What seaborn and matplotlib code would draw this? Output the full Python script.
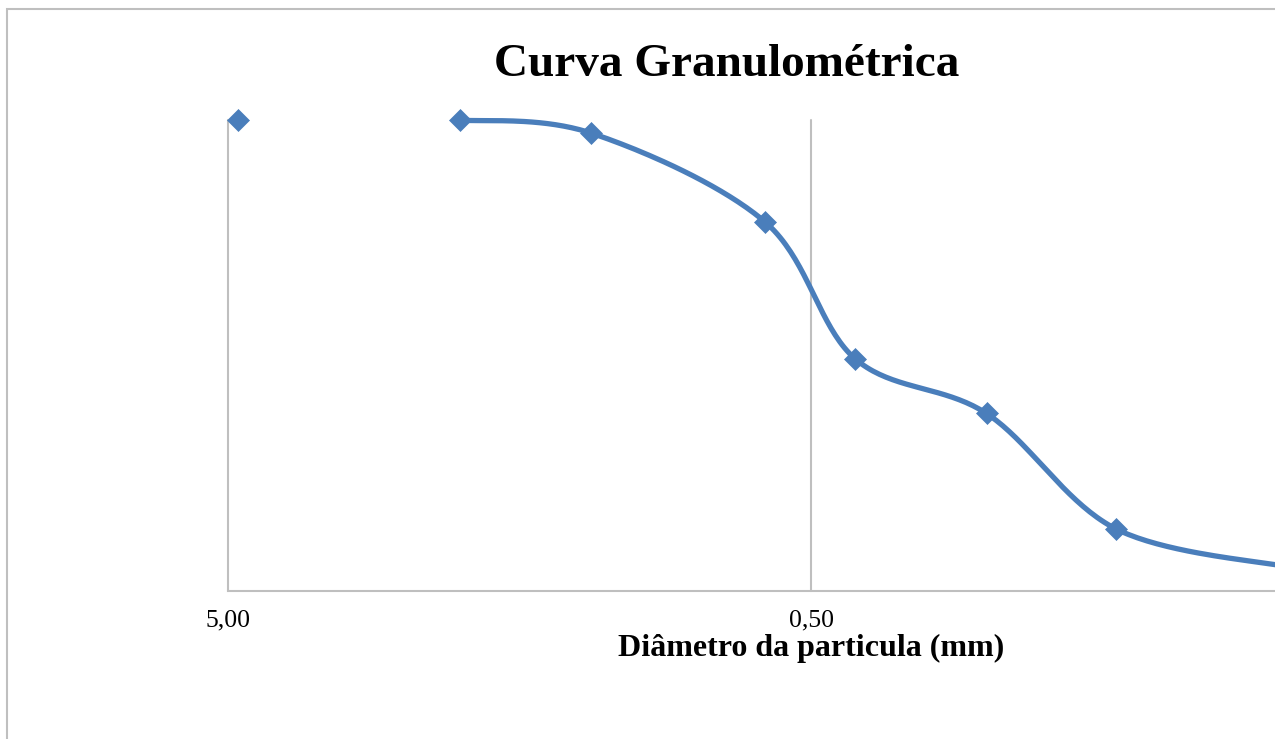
import numpy as np
import pandas as pd
import matplotlib
matplotlib.use("Agg")
import matplotlib.pyplot as plt
import seaborn as sns
from matplotlib.patches import Rectangle

# data (diameter in mm, % passing)
diametro = [4.8, 2.0, 1.19, 0.60, 0.42, 0.25, 0.15, 0.075]
passante = [100.0, 100.0, 97.2, 78.4, 49.3, 37.7, 13.2, 5.0]
xticks = [5.0, 0.5, 0.05]
xticklabels = ["5,00", "0,50", ""]

df = pd.DataFrame({"diametro": diametro, "passante": passante})


def smooth(x, y, n=40):
    # Excel-like smoothed line: Bezier segments in log-x space
    P = np.column_stack([np.log10(x), np.asarray(y, float)])
    out = []
    for i in range(len(P) - 1):
        p0 = P[max(i - 1, 0)]
        p1 = P[i]
        p2 = P[i + 1]
        p3 = P[min(i + 2, len(P) - 1)]
        c1 = p1 + (p2 - p0) / 6
        c2 = p2 - (p3 - p1) / 6
        t = np.linspace(0, 1, n)[:, None]
        seg = (1 - t) ** 3 * p1 + 3 * (1 - t) ** 2 * t * c1 + 3 * (1 - t) * t ** 2 * c2 + t ** 3 * p2
        out.append(seg if i == 0 else seg[1:])
    s = np.vstack(out)
    return pd.DataFrame({"diametro": 10 ** s[:, 0], "passante": s[:, 1]})


# first point stands alone in the reference, line starts at the 2nd point
curve = smooth(df["diametro"].iloc[1:].values, df["passante"].iloc[1:].values)

sns.set_style("white")
plt.rcParams.update(
    {
        "font.family": ["Liberation Serif", "DejaVu Serif"],
        "text.color": "black",
        "axes.labelcolor": "black",
        "xtick.color": "black",
    }
)

blue = "#4A7EBB"
grey = "#BFBFBF"

W, H = 1275, 739
fig = plt.figure(figsize=(W / 100, H / 100), dpi=100)
# plot area runs past the right edge of the picture (cropped chart)
ax = fig.add_axes([228 / W, 1 - 591 / H, (1394 - 228) / W, 471 / H])

sns.lineplot(
    data=curve, x="diametro", y="passante", sort=False, estimator=None,
    color=blue, linewidth=3.8, ax=ax, clip_on=False, zorder=3,
)
sns.scatterplot(
    data=df, x="diametro", y="passante", marker="D", s=125,
    color=blue, edgecolor=blue, linewidth=0.5, ax=ax, clip_on=False, zorder=4,
)

ax.set_xscale("log")
ax.set_xlim(5, 0.05)
ax.set_ylim(0, 100)
ax.set_xticks(xticks)
ax.set_xticklabels(xticklabels)
ax.xaxis.set_minor_locator(plt.NullLocator())
ax.set_yticks([])
ax.set_ylabel("")
ax.tick_params(axis="x", length=0, pad=13, labelsize=18.5)
ax.grid(axis="x", color=grey, linewidth=1.5)
for gl in ax.get_xgridlines():
    gl.set_clip_on(False)
ax.set_axisbelow(True)
for side in ["top", "right", "left"]:
    ax.spines[side].set_visible(False)
ax.spines["bottom"].set_color(grey)
ax.spines["bottom"].set_linewidth(1.5)

ax.set_xlabel("Diâmetro da particula (mm)", fontsize=23, fontweight="bold", labelpad=2)

fig.text(727 / W, 1 - 76 / H, "Curva Granulométrica", fontsize=34,
         fontweight="bold", ha="center", va="baseline")

# chart border (only top and left visible in the crop)
fig.patches.append(Rectangle((7 / W, -0.1), 1.2, 1 - 9 / H + 0.1, transform=fig.transFigure,
                             fill=False, edgecolor=grey, linewidth=1.5))

fig.savefig("out.png", dpi=100)
